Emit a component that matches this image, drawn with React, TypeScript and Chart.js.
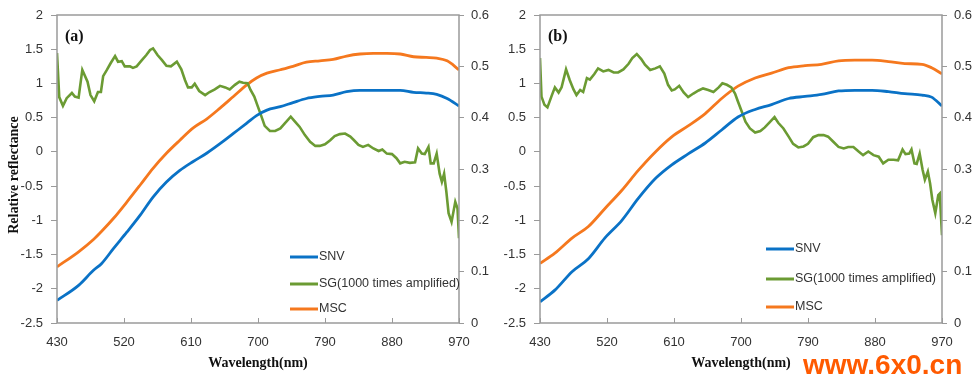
import React, { useEffect, useRef } from "react";
import { Chart, registerables } from "chart.js";

Chart.register(...registerables);

// ---------- data ----------
const X_TICKS = [430, 520, 610, 700, 790, 880, 970];
const LEGEND_LABELS = ["SNV", "SG(1000 times amplified)", "MSC"];

// Panel (a)
const wlA = [430, 459, 479, 490, 506, 524, 542, 559, 577, 595, 613, 631, 649, 667, 685, 698, 712, 730, 747, 765, 783, 801, 819, 837, 855, 873, 891, 909, 926, 940, 954, 970];
const snvA = [-2.17, -1.95, -1.73, -1.63, -1.41, -1.17, -0.92, -0.66, -0.44, -0.27, -0.14, -0.02, 0.12, 0.27, 0.42, 0.53, 0.61, 0.66, 0.72, 0.78, 0.81, 0.83, 0.88, 0.9, 0.9, 0.9, 0.9, 0.87, 0.86, 0.84, 0.78, 0.67];
const mscA = [-1.68, -1.46, -1.28, -1.16, -0.97, -0.73, -0.48, -0.24, -0.02, 0.17, 0.35, 0.48, 0.64, 0.81, 0.98, 1.08, 1.15, 1.2, 1.25, 1.31, 1.33, 1.35, 1.4, 1.43, 1.44, 1.44, 1.43, 1.39, 1.38, 1.37, 1.33, 1.2];
const sgWlA = [430, 433, 438, 443, 450, 454, 459, 464, 471, 475, 480, 485, 489, 492, 497, 502, 508, 512, 517, 521, 528, 532, 537, 544, 550, 555, 559, 565, 571, 577, 583, 591, 597, 602, 606, 611, 615, 621, 629, 635, 642, 649, 656, 662, 669, 675, 680, 686, 690, 695, 699, 704, 709, 716, 723, 730, 736, 744, 750, 756, 763, 770, 777, 783, 790, 797, 803, 810, 817, 824, 829, 835, 841, 848, 855, 862, 867, 873, 880, 886, 891, 897, 904, 911, 915, 920, 924, 929, 932, 936, 940, 944, 947, 950, 953, 956, 960, 965, 968, 970];
const sgA = [0.526, 0.44, 0.423, 0.438, 0.448, 0.441, 0.439, 0.493, 0.47, 0.444, 0.432, 0.45, 0.45, 0.481, 0.493, 0.506, 0.52, 0.509, 0.51, 0.5, 0.5, 0.497, 0.5, 0.512, 0.522, 0.532, 0.535, 0.522, 0.512, 0.501, 0.5, 0.509, 0.494, 0.473, 0.459, 0.459, 0.466, 0.452, 0.444, 0.45, 0.455, 0.462, 0.459, 0.455, 0.464, 0.47, 0.468, 0.467, 0.454, 0.441, 0.425, 0.405, 0.384, 0.374, 0.374, 0.379, 0.389, 0.402, 0.392, 0.382, 0.366, 0.353, 0.345, 0.345, 0.348, 0.356, 0.364, 0.368, 0.369, 0.363, 0.356, 0.347, 0.343, 0.347, 0.34, 0.335, 0.338, 0.33, 0.329, 0.321, 0.311, 0.314, 0.312, 0.313, 0.34, 0.33, 0.329, 0.343, 0.311, 0.311, 0.33, 0.291, 0.275, 0.291, 0.256, 0.214, 0.197, 0.236, 0.223, 0.165];

// Panel (b)
const wlB = [430, 450, 473, 495, 517, 540, 562, 585, 607, 629, 652, 674, 696, 719, 741, 764, 786, 808, 831, 853, 876, 898, 920, 943, 956, 970];
const snvB = [-2.19, -2.02, -1.75, -1.56, -1.26, -1.0, -0.68, -0.39, -0.19, -0.03, 0.13, 0.32, 0.51, 0.62, 0.69, 0.78, 0.81, 0.84, 0.89, 0.9, 0.9, 0.88, 0.85, 0.83, 0.8, 0.67];
const mscB = [-1.63, -1.48, -1.26, -1.09, -0.83, -0.56, -0.27, 0.0, 0.22, 0.38, 0.56, 0.78, 0.96, 1.08, 1.15, 1.23, 1.26, 1.28, 1.33, 1.34, 1.34, 1.32, 1.29, 1.28, 1.23, 1.14];
const sgWlB = [430, 432, 436, 440, 446, 450, 455, 459, 465, 470, 475, 479, 484, 488, 493, 497, 503, 508, 515, 522, 529, 535, 542, 549, 554, 560, 566, 571, 578, 585, 591, 597, 602, 607, 611, 617, 623, 629, 636, 643, 649, 656, 663, 670, 675, 681, 687, 692, 696, 701, 706, 712, 719, 726, 732, 739, 745, 750, 757, 764, 770, 777, 784, 790, 797, 804, 811, 817, 824, 831, 838, 844, 851, 858, 864, 871, 878, 885, 891, 898, 905, 911, 917, 921, 926, 929, 933, 936, 940, 944, 947, 951, 954, 957, 961, 965, 967, 970];
const sgB = [0.516, 0.441, 0.425, 0.42, 0.444, 0.459, 0.449, 0.459, 0.494, 0.473, 0.455, 0.444, 0.454, 0.45, 0.477, 0.474, 0.485, 0.496, 0.49, 0.493, 0.488, 0.488, 0.494, 0.505, 0.516, 0.524, 0.514, 0.503, 0.493, 0.496, 0.5, 0.486, 0.464, 0.453, 0.455, 0.462, 0.449, 0.44, 0.447, 0.453, 0.457, 0.454, 0.45, 0.459, 0.467, 0.464, 0.459, 0.447, 0.431, 0.412, 0.392, 0.379, 0.371, 0.374, 0.381, 0.392, 0.401, 0.39, 0.379, 0.363, 0.349, 0.342, 0.344, 0.349, 0.362, 0.366, 0.366, 0.363, 0.353, 0.343, 0.34, 0.343, 0.343, 0.334, 0.327, 0.334, 0.327, 0.324, 0.311, 0.318, 0.318, 0.317, 0.338, 0.329, 0.33, 0.338, 0.311, 0.31, 0.33, 0.298, 0.279, 0.295, 0.272, 0.24, 0.214, 0.249, 0.252, 0.171];

// ---------- style ----------
const BLUE = "#0A72C6";
const GREEN = "#6B9B33";
const ORANGE = "#F5781E";
const AXIS = "#9a9a9a";
const TXT = "#333333";
const SANS = '"Liberation Sans", Arial, sans-serif';
const SERIF = '"Liberation Serif", "Times New Roman", serif';

type PanelProps = {
  tag: string;
  left: number;
  width: number;
  yAxisW: number;
  y2AxisW: number;
  showYTitle: boolean;
  legendOffset: number;
  legendYs: number[];
  watermark: boolean;
  wl: number[];
  snv: number[];
  msc: number[];
  sgWl: number[];
  sg: number[];
};

const zip = (xs: number[], ys: number[]) => xs.map((x, i) => ({ x, y: ys[i] }));
const fmt = (v: any) => String(Math.round(Number(v) * 10) / 10);

function Panel(p: PanelProps) {
  const ref = useRef<HTMLCanvasElement | null>(null);
  useEffect(() => {
    if (!ref.current) return;
    const deco = {
      id: "deco",
      afterDraw(chart: any) {
        const ctx = chart.ctx;
        const a = chart.chartArea;
        ctx.save();
        ctx.strokeStyle = AXIS;
        ctx.lineWidth = 1.5;
        ctx.strokeRect(a.left, a.top, a.right - a.left, a.bottom - a.top);
        const xs = chart.scales.x;
        ctx.lineWidth = 1;
        X_TICKS.forEach((v) => {
          const px = Math.round(xs.getPixelForValue(v)) + 0.5;
          ctx.beginPath();
          ctx.moveTo(px, a.bottom);
          ctx.lineTo(px, a.bottom - 5);
          ctx.stroke();
        });
        ctx.fillStyle = "#111";
        ctx.font = `bold 16px ${SERIF}`;
        ctx.textBaseline = "middle";
        ctx.textAlign = "left";
        ctx.fillText(p.tag, a.left + 8, 37);
        ctx.font = `bold 14px ${SERIF}`;
        ctx.textAlign = "center";
        ctx.fillText("Wavelength(nm)", (a.left + a.right) / 2, 363);
        if (p.showYTitle) {
          ctx.save();
          ctx.translate(14, 175);
          ctx.rotate(-Math.PI / 2);
          ctx.fillText("Relative reflectance", 0, 0);
          ctx.restore();
        }
        const cols = [BLUE, GREEN, ORANGE];
        const lx = a.right - p.legendOffset;
        ctx.font = `12.5px ${SANS}`;
        ctx.textAlign = "left";
        LEGEND_LABELS.forEach((lab, i) => {
          const y = p.legendYs[i];
          ctx.strokeStyle = cols[i];
          ctx.lineWidth = 3;
          ctx.beginPath();
          ctx.moveTo(lx, y);
          ctx.lineTo(lx + 28, y);
          ctx.stroke();
          ctx.fillStyle = TXT;
          ctx.fillText(lab, lx + 29, y);
        });
        if (p.watermark) {
          ctx.fillStyle = "#FF5A00";
          ctx.font = `bold 28px ${SANS}`;
          ctx.textBaseline = "alphabetic";
          ctx.textAlign = "left";
          ctx.fillText("www.6x0.cn", 803 - p.left, 374);
        }
        ctx.restore();
      },
    };
    const tickFont = { family: SANS, size: 13 };
    const chart = new Chart(ref.current, {
      type: "line",
      data: {
        datasets: [
          {
            label: "SNV",
            data: zip(p.wl, p.snv),
            borderColor: BLUE,
            borderWidth: 2.8,
            pointRadius: 0,
            cubicInterpolationMode: "monotone",
            yAxisID: "y",
          },
          {
            label: "SG(1000 times amplified)",
            data: zip(p.sgWl, p.sg),
            borderColor: GREEN,
            borderWidth: 2.6,
            pointRadius: 0,
            tension: 0,
            yAxisID: "y2",
          },
          {
            label: "MSC",
            data: zip(p.wl, p.msc),
            borderColor: ORANGE,
            borderWidth: 2.8,
            pointRadius: 0,
            cubicInterpolationMode: "monotone",
            yAxisID: "y",
          },
        ],
      },
      options: {
        responsive: false,
        animation: false,
        parsing: false,
        layout: { padding: { top: 15, left: 0, right: 0, bottom: 0 } },
        plugins: { legend: { display: false }, tooltip: { enabled: false } },
        scales: {
          x: {
            type: "linear",
            min: 430,
            max: 970,
            afterBuildTicks: (s: any) => {
              s.ticks = X_TICKS.map((v) => ({ value: v }));
            },
            ticks: { font: tickFont, color: TXT, padding: 12, autoSkip: false, maxRotation: 0, callback: (v: any) => String(v) },
            grid: { display: false, drawTicks: false },
            border: { display: false },
            afterFit: (s: any) => {
              s.height = 64;
              s.paddingLeft = 0;
              s.paddingRight = 0;
            },
          },
          y: {
            position: "left",
            min: -2.5,
            max: 2,
            ticks: { stepSize: 0.5, font: tickFont, color: TXT, padding: 8, callback: fmt },
            grid: { drawOnChartArea: false, drawTicks: true, tickLength: 6, color: AXIS },
            border: { display: false },
            afterFit: (s: any) => {
              s.width = p.yAxisW;
              s.paddingTop = 0;
              s.paddingBottom = 0;
            },
          },
          y2: {
            position: "right",
            min: 0,
            max: 0.6,
            ticks: { stepSize: 0.1, font: tickFont, color: TXT, padding: 7, callback: fmt },
            grid: { drawOnChartArea: false, drawTicks: true, tickLength: 5, color: AXIS },
            border: { display: false },
            afterFit: (s: any) => {
              s.width = p.y2AxisW;
              s.paddingTop = 0;
              s.paddingBottom = 0;
            },
          },
        },
      } as any,
      plugins: [deco],
    });
    return () => chart.destroy();
  }, []);
  return (
    <canvas
      ref={ref}
      width={p.width}
      height={387}
      style={{ position: "absolute", left: p.left, top: 0, width: p.width, height: 387 }}
    />
  );
}

export default function App() {
  return (
    <div style={{ position: "fixed", left: 0, top: 0, width: 977, height: 387, background: "#fff", overflow: "hidden" }}>
      <Panel
        tag="(a)"
        left={0}
        width={500}
        yAxisW={57}
        y2AxisW={41}
        showYTitle={true}
        legendOffset={169}
        legendYs={[257, 284, 309]}
        watermark={false}
        wl={wlA}
        snv={snvA}
        msc={mscA}
        sgWl={sgWlA}
        sg={sgA}
      />
      <Panel
        tag="(b)"
        left={488}
        width={489}
        yAxisW={52}
        y2AxisW={35}
        showYTitle={false}
        legendOffset={176}
        legendYs={[249, 279, 307]}
        watermark={true}
        wl={wlB}
        snv={snvB}
        msc={mscB}
        sgWl={sgWlB}
        sg={sgB}
      />
    </div>
  );
}
